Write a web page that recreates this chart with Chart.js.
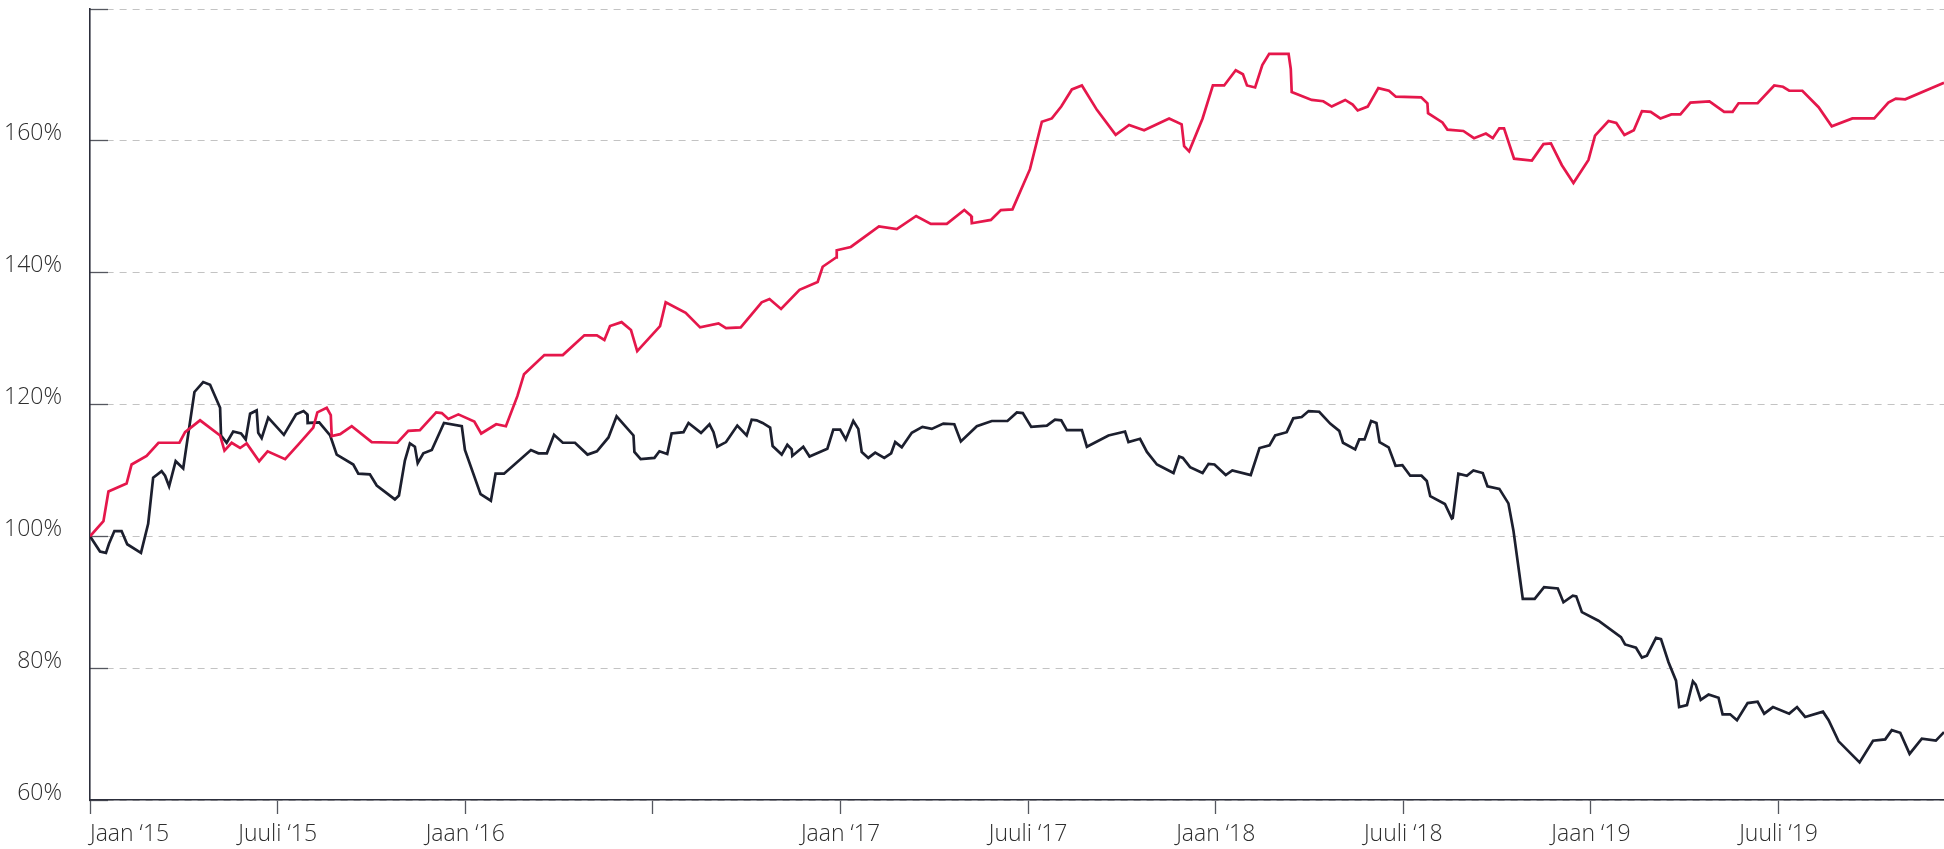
<!DOCTYPE html>
<html>
<head>
<meta charset="utf-8">
<script src="https://cdn.jsdelivr.net/npm/chart.js@4/dist/chart.umd.min.js"></script>
<style>
  html, body { margin: 0; padding: 0; background: #ffffff; }
  #wrap { width: 1944px; height: 849px; position: relative; }
</style>
</head>
<body>
<div id="wrap"><canvas id="c"></canvas></div>
<script>
// x values are months since January 2015
const tickMonths = [0, 6, 12, 18, 24, 30, 36, 42, 48, 54];
const tickLabels = ["Jaan \u201815", "Juuli \u201815", "Jaan \u201816", "", "Jaan \u201817", "Juuli \u201817", "Jaan \u201818", "Juuli \u201818", "Jaan \u201819", "Juuli \u201819"];
const lastMonth = 59.29;

const redMonths = [0.00,0.43,0.59,1.17,1.33,1.81,2.19,2.86,3.04,3.52,4.16,4.30,4.53,4.80,5.01,5.41,5.68,6.24,6.66,7.14,7.27,7.57,7.70,7.73,8.00,8.37,9.01,9.83,10.18,10.55,11.07,11.25,11.46,11.78,12.29,12.51,12.99,13.30,13.67,13.88,14.53,15.12,15.81,16.21,16.45,16.63,17.00,17.30,17.50,18.23,18.41,19.05,19.51,20.10,20.34,20.81,21.48,21.73,22.10,22.69,23.27,23.43,23.86,23.88,24.33,25.23,25.80,26.42,26.89,27.40,27.96,28.18,28.20,28.81,29.13,29.50,30.06,30.44,30.76,31.06,31.40,31.72,32.20,32.80,33.23,33.71,34.51,34.91,34.99,35.15,35.58,35.91,36.27,36.64,36.87,37.00,37.26,37.49,37.71,38.33,38.40,38.43,39.07,39.44,39.71,40.14,40.38,40.54,40.86,41.20,41.54,41.76,42.57,42.77,42.79,43.25,43.41,43.92,44.26,44.64,44.86,45.07,45.22,45.54,46.11,46.48,46.72,47.07,47.44,47.92,48.13,48.56,48.81,49.07,49.37,49.63,49.91,50.22,50.57,50.86,51.18,51.79,52.26,52.53,52.72,53.33,53.86,54.14,54.34,54.76,55.28,55.70,56.36,57.06,57.51,57.75,58.05,59.29];
const redValues = [100.0,102.3,106.8,108.0,110.9,112.2,114.2,114.2,115.8,117.6,115.3,113.0,114.2,113.4,114.1,111.4,112.9,111.7,113.9,116.5,118.8,119.5,118.4,115.2,115.5,116.7,114.3,114.2,116.0,116.1,118.8,118.7,117.8,118.5,117.4,115.6,117.0,116.7,121.3,124.6,127.5,127.5,130.5,130.5,129.8,131.9,132.5,131.3,128.1,131.9,135.5,133.9,131.7,132.3,131.6,131.7,135.5,136.0,134.5,137.4,138.6,140.9,142.3,143.4,143.9,147.0,146.6,148.6,147.4,147.4,149.5,148.6,147.5,148.0,149.5,149.6,155.7,162.9,163.4,165.2,167.8,168.4,164.7,160.9,162.4,161.6,163.4,162.5,159.2,158.4,163.4,168.4,168.4,170.7,170.1,168.4,168.1,171.5,173.2,173.2,170.9,167.4,166.2,166.0,165.2,166.2,165.5,164.6,165.2,168.0,167.6,166.7,166.6,165.7,164.2,162.8,161.7,161.5,160.4,161.1,160.4,161.9,161.9,157.3,157.0,159.5,159.6,156.3,153.6,157.1,160.8,163.0,162.7,160.9,161.6,164.5,164.4,163.4,164.0,164.0,165.8,166.0,164.4,164.4,165.7,165.7,168.4,168.2,167.6,167.6,165.1,162.2,163.4,163.4,165.8,166.4,166.3,168.8];

const blackMonths = [0.00,0.32,0.51,0.61,0.78,1.01,1.19,1.63,1.86,2.02,2.29,2.40,2.53,2.74,2.98,3.34,3.62,3.84,4.16,4.19,4.37,4.58,4.83,4.98,5.12,5.33,5.38,5.49,5.70,6.20,6.59,6.83,6.95,6.96,7.33,7.68,7.89,8.42,8.58,8.95,9.17,9.75,9.88,10.07,10.23,10.39,10.48,10.66,10.93,11.32,11.89,11.99,12.49,12.82,12.97,13.24,14.10,14.34,14.61,14.84,15.12,15.51,15.91,16.21,16.58,16.84,17.38,17.41,17.61,18.05,18.21,18.46,18.60,18.98,19.14,19.54,19.81,19.94,20.06,20.34,20.70,21.00,21.16,21.32,21.51,21.75,21.83,22.12,22.30,22.44,22.46,22.81,23.01,23.58,23.77,23.99,24.17,24.41,24.57,24.68,24.89,25.11,25.40,25.62,25.75,25.96,26.28,26.62,26.92,27.29,27.64,27.85,28.36,28.84,29.34,29.64,29.83,30.10,30.60,30.86,31.06,31.24,31.72,31.88,32.57,33.10,33.21,33.58,33.80,34.12,34.65,34.83,34.95,35.18,35.58,35.77,35.96,36.32,36.53,37.12,37.40,37.72,37.90,38.27,38.48,38.75,38.97,39.31,39.66,39.95,40.07,40.46,40.59,40.76,40.97,41.14,41.24,41.53,41.75,41.97,42.22,42.58,42.75,42.86,43.33,43.55,43.58,43.76,44.03,44.24,44.54,44.69,45.07,45.36,45.52,45.82,46.20,46.50,46.94,47.12,47.42,47.53,47.71,48.24,48.96,49.09,49.44,49.63,49.79,50.08,50.24,50.48,50.72,50.82,51.07,51.26,51.35,51.51,51.76,52.08,52.21,52.45,52.67,53.01,53.33,53.54,53.82,54.34,54.59,54.85,55.42,55.60,55.92,56.59,57.02,57.41,57.62,57.89,58.19,58.58,59.03,59.29];
const blackValues = [100.0,97.7,97.5,98.9,100.8,100.8,98.8,97.5,101.9,108.9,109.9,109.2,107.6,111.4,110.3,121.9,123.4,123.0,119.5,115.3,114.2,115.9,115.6,114.7,118.6,119.1,115.7,114.9,118.0,115.4,118.5,119.0,118.5,117.2,117.3,115.3,112.4,110.9,109.5,109.4,107.7,105.6,106.2,111.5,114.1,113.6,111.1,112.6,113.1,117.2,116.7,113.1,106.4,105.4,109.5,109.5,113.1,112.6,112.6,115.4,114.2,114.2,112.4,112.9,115.0,118.2,115.3,112.8,111.7,111.9,112.9,112.5,115.6,115.8,117.2,115.7,117.0,115.8,113.6,114.3,116.8,115.3,117.7,117.6,117.2,116.5,113.7,112.4,113.9,113.2,112.2,113.6,112.1,113.3,116.2,116.2,114.7,117.5,116.3,112.8,111.9,112.7,111.9,112.6,114.3,113.5,115.7,116.6,116.3,117.1,117.0,114.4,116.7,117.5,117.5,118.8,118.7,116.6,116.8,117.7,117.6,116.1,116.1,113.6,115.3,115.9,114.3,114.8,112.8,110.9,109.6,112.1,111.9,110.5,109.6,111.0,110.9,109.3,110.0,109.3,113.4,113.8,115.3,115.8,117.9,118.1,119.0,118.9,117.1,116.0,114.2,113.2,114.7,114.7,117.5,117.2,114.3,113.5,110.7,110.8,109.2,109.2,108.4,106.1,104.9,102.7,102.8,109.5,109.2,110.0,109.6,107.6,107.2,105.0,100.9,90.5,90.5,92.3,92.1,90.0,91.0,90.9,88.5,87.2,84.7,83.6,83.1,81.6,81.9,84.6,84.4,80.9,78.1,74.1,74.4,78.0,77.5,75.2,76.0,75.5,73.0,73.0,72.1,74.7,74.9,73.1,74.1,73.1,74.1,72.6,73.4,72.1,68.9,65.7,69.0,69.2,70.6,70.2,67.0,69.3,69.0,70.3];

const yMin = 60, yMax = 180, yStep = 20;

const RED = '#e5174b';
const NAVY = '#1c1f2e';
const FONT = { family: '"Open Sans", Lato, sans-serif', size: 23, weight: 300 };
const TEXT = '#2e2e2e';

const toPoints = (xs, ys) => xs.map((x, i) => ({ x: x, y: ys[i] }));
const allTicks = tickMonths.concat([lastMonth]);

new Chart(document.getElementById('c'), {
  type: 'line',
  data: {
    datasets: [
      { label: 'Rood', data: toPoints(redMonths, redValues), borderColor: RED, borderWidth: 2.7, pointRadius: 0, tension: 0, fill: false },
      { label: 'Zwart', data: toPoints(blackMonths, blackValues), borderColor: NAVY, borderWidth: 2.7, pointRadius: 0, tension: 0, fill: false }
    ]
  },
  options: {
    responsive: true,
    maintainAspectRatio: false,
    animation: false,
    events: [],
    layout: { padding: { top: 9, right: 0, bottom: 0, left: 0 } },
    plugins: { legend: { display: false }, tooltip: { enabled: false } },
    scales: {
      x: {
        type: 'linear',
        min: 0,
        max: lastMonth,
        afterBuildTicks: (s) => { s.ticks = allTicks.map(v => ({ value: v })); },
        afterFit: (s) => { s.height = 49; s.paddingLeft = 0; s.paddingRight = 0; },
        grid: {
          drawOnChartArea: false,
          drawTicks: true,
          tickLength: 14,
          tickWidth: 1.3,
          tickColor: (ctx) => (ctx.index < tickMonths.length ? '#55575f' : 'rgba(0,0,0,0)'),
          tickBorderDash: []
        },
        border: { display: true, color: '#2c2e3b', width: 1.6 },
        ticks: {
          autoSkip: false,
          maxRotation: 0,
          minRotation: 0,
          align: 'inner',
          padding: 7,
          color: TEXT,
          font: FONT,
          callback: (v, i) => (i < tickLabels.length ? tickLabels[i] : '')
        }
      },
      y: {
        min: yMin,
        max: yMax,
        afterFit: (s) => { s.width = 90; s.paddingTop = 0; s.paddingBottom = 0; },
        grid: {
          color: '#c3c3c3',
          lineWidth: 1,
          drawTicks: true,
          tickLength: -18,
          tickWidth: 1.3,
          tickColor: '#55575f',
          tickBorderDash: []
        },
        border: { display: true, color: '#2c2e3b', width: 1.6, dash: [7, 6], dashOffset: 10 },
        ticks: {
          stepSize: yStep,
          padding: 46,
          labelOffset: -7,
          color: TEXT,
          font: FONT,
          callback: (v) => (v === yMax ? '' : v + '%')
        }
      }
    }
  }
});
</script>
</body>
</html>
